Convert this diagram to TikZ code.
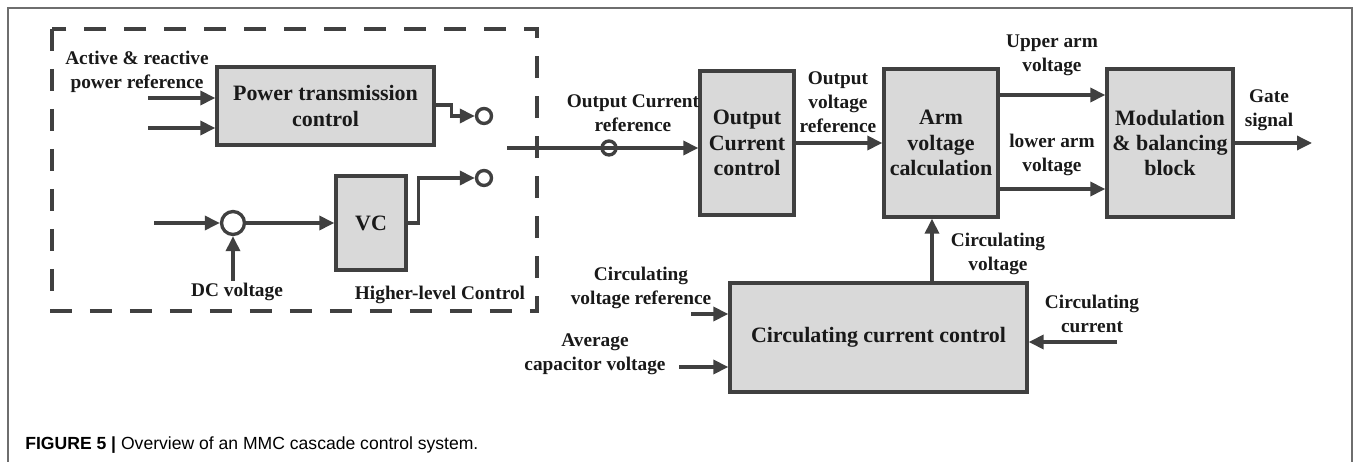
\documentclass[tikz,border=0pt]{standalone}
\usepackage{fontspec}
\setmainfont{Liberation Serif}
\newfontfamily\capfont{Liberation Sans}
\usetikzlibrary{arrows.meta}

\definecolor{linegray}{HTML}{404040}
\definecolor{boxgray}{HTML}{D9D9D9}
\definecolor{framegray}{HTML}{6E6E6E}

\begin{document}
\begin{tikzpicture}[x=0.02cm, y=-0.02cm,
    block/.style={draw=linegray, fill=boxgray, line width=1.9pt, align=center,
      inner sep=0pt, font=\fontsize{12.5}{14.5}\selectfont\bfseries, text=black!90},
    lbl/.style={align=center, inner sep=0pt,
      font=\fontsize{11}{13.6}\selectfont\bfseries, text=black!90},
    sig/.style={draw=linegray, line width=1.9pt,
      -{Triangle[length=0.3cm, width=0.28cm]}},
    pole/.style={circle, draw=linegray, line width=1.9pt, fill=white,
      inner sep=0pt, minimum size=0.3cm}]
        \useasboundingbox (0,0) rectangle (1356,462);

        % Frame
        \draw[framegray, line width=0.6pt] (8,462) -- (8,8) -- (1352,8) -- (1352,462);

        % Higher-level control (dashed)
        \draw[linegray, line width=1.9pt, dash pattern=on 0.44cm off 0.36cm]
            (52,29) rectangle (537,311);
        \node[lbl] (hlc) at (440,295) {Higher-level Control};

        % Power transmission control
        \node[block, minimum width=4.34cm, minimum height=1.56cm] (ptc) at (325.5,106)
            {Power transmission\\control};
        \node[lbl] (pref) at (137,72) {Active \& reactive\\power reference};
        \coordinate (pin1) at (148,98);
        \coordinate (pin2) at (148,128);
        \draw[sig] (pin1) -- (pin1 -| ptc.west);
        \draw[sig] (pin2) -- (pin2 -| ptc.west);

        % DC voltage loop
        \node[circle, draw=linegray, line width=1.9pt, minimum size=0.46cm, inner sep=0pt] (sum) at (233,223) {};
        \node[block, minimum width=1.4cm, minimum height=1.88cm] (vc) at (371,223) {VC};
        \coordinate (vin) at (154,223);
        \coordinate (dcin) at (233,281);
        \node[lbl] (dcv) at (237,292) {DC voltage};
        \draw[sig] (vin) -- (sum);
        \draw[sig] (dcin) -- (sum);
        \draw[sig] (sum) -- (vc);

        % Switch
        \node[pole] (sw1) at (484,116) {};
        \node[pole] (sw2) at (484,178) {};
        \draw[sig] (ptc.east |- 0,105) -- ++(16,0) |- (sw1);
        \draw[sig] (vc.east) -- ++(11,0) |- (sw2);
        \coordinate (swpole) at (507,148);

        % Output current control
        \node[block, minimum width=1.88cm, minimum height=2.88cm] (occ) at (747,143)
            {Output\\Current\\control};
        \node[lbl] (ocref) at (633,113) {Output Current\\reference};
        \draw[sig] (swpole) -- (swpole -| occ.west);
        \node[pole, minimum size=0.28cm, fill=none] (ocdot) at (609,148) {};

        % Arm voltage calculation
        \node[block, minimum width=2.28cm, minimum height=2.96cm] (arm) at (941,143)
            {Arm\\voltage\\calculation};
        \node[lbl] (ovref) at (838,102) {Output\\voltage\\reference};
        \draw[sig] (occ) -- (arm);

        % Modulation
        \node[block, minimum width=2.52cm, minimum height=2.96cm] (mod) at (1170,143)
            {Modulation\\\& balancing\\block};
        \node[lbl] (uav) at (1052,55) {Upper arm\\voltage};
        \node[lbl] (lav) at (1052,155) {lower arm\\voltage};
        \draw[sig] (arm.east |- 0,95) -- (mod.west |- 0,95);
        \draw[sig] (arm.east |- 0,189) -- (mod.west |- 0,189);
        \coordinate (gate) at (1312,143);
        \node[lbl] (gsig) at (1269,110) {Gate\\signal};
        \draw[sig] (mod) -- (gate);

        % Circulating current control
        \node[block, minimum width=5.94cm, minimum height=2.18cm] (ccc) at (878.5,337.5)
            {Circulating current control};
        \node[lbl] (cvol) at (998,254) {Circulating\\voltage};
        \draw[sig] (ccc.north -| 932,0) -- (arm.south -| 932,0);
        \coordinate (cvrin) at (691,314);
        \coordinate (acvin) at (679,367);
        \coordinate (ccin) at (1117,342);
        \node[lbl] (cvref) at (641,288) {Circulating\\voltage reference};
        \node[lbl] (acv) at (595,354) {Average\\capacitor voltage};
        \node[lbl] (ccur) at (1092,314) {Circulating\\current};
        \draw[sig] (cvrin) -- (cvrin -| ccc.west);
        \draw[sig] (acvin) -- (acvin -| ccc.west);
        \draw[sig] (ccin) -- (ccin -| ccc.east);

        % Caption
        \node[anchor=west, inner sep=0pt, font=\capfont\fontsize{10}{12}\selectfont] (cap) at (25,445)
            {\textbf{FIGURE 5 |} Overview of an MMC cascade control system.};
\end{tikzpicture}
\end{document}
